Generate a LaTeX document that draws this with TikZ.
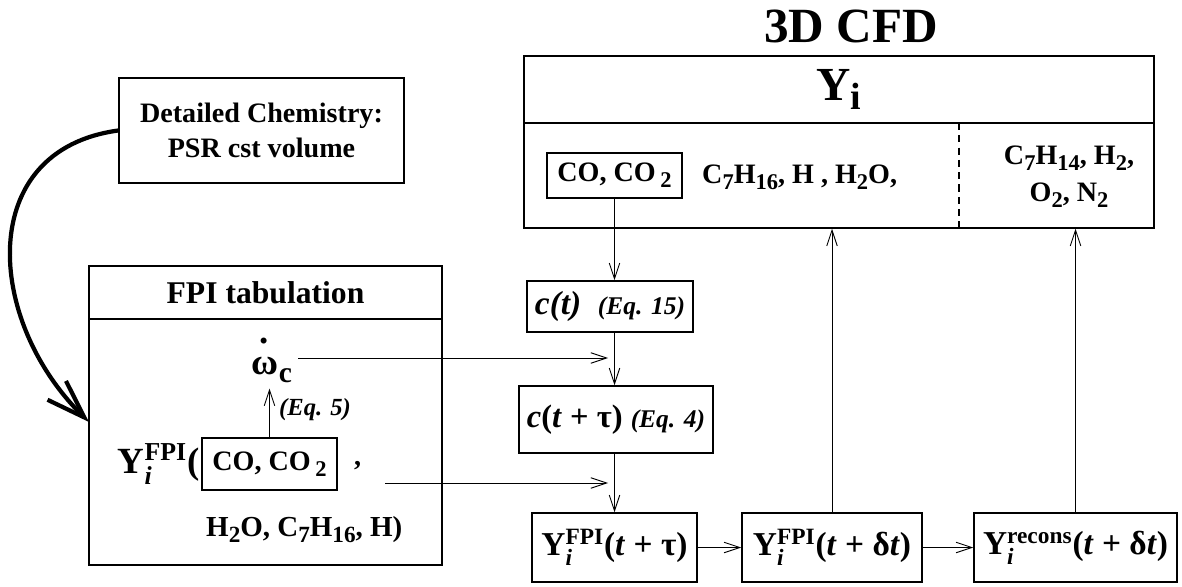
\documentclass[tikz,border=0pt]{standalone}
\usepackage{fontspec}
\usepackage{amsmath}
\setmainfont{Liberation Serif}
\usetikzlibrary{arrows.meta}

\newcommand\chem[1]{\raisebox{-0.45ex}{\scalebox{0.8}{#1}}}
\newcommand\yfpi{Y$^{\text{FPI}}_{\textit{i}}$}
\newcommand\yrec{Y$^{\text{recons}}_{\textit{i}}$}
\newcommand\omdot{\rlap{\hspace{0.2em}\raisebox{0.85em}{.}}ω}

\begin{document}
\begin{tikzpicture}[x=0.02cm, y=-0.02cm,
  >={Straight Barb[length=9pt,width=6pt]},
  box/.style={draw, line width=0.9pt, inner sep=1pt},
  small/.style={draw, line width=0.6pt, inner sep=1pt},
  txt/.style={font=\bfseries\fontsize{16}{21}\selectfont},
  big/.style={font=\bfseries\fontsize{19}{22}\selectfont},
  eq/.style={font=\bfseries\itshape\fontsize{14}{16}\selectfont},
  link/.style={->, line width=0.5pt}]
  \useasboundingbox (0,0) rectangle (1182,587);

  % 3D CFD side
  \node[font=\bfseries\fontsize{28}{30}\selectfont] (title) at (851,26) {3D CFD};
  \node[box, minimum width=12.6cm, minimum height=1.34cm,
        font=\bfseries\fontsize{27}{30}\selectfont] (cfdh) at (839,89.5) {Y\chem{i}};
  \node[box, minimum width=12.6cm, minimum height=2.1cm] (cfdb) at (839,175.5) {};
  \draw[dashed, line width=0.6pt, dash pattern=on 4pt off 3pt] (959,123) -- (959,228);
  \node[small, txt, minimum width=2.7cm, minimum height=0.9cm] (cocfd) at (614.5,175.5) {CO, CO\,\chem{2}};
  \node[txt, anchor=west] (others) at (696,177) {C\chem{7}H\chem{16}, H , H\chem{2}O,};
  \node[txt, align=center] (inert) at (1069,177) {C\chem{7}H\chem{14}, H\chem{2},\\ O\chem{2}, N\chem{2}};

  % chemistry and tabulation
  \node[box, minimum width=5.7cm, minimum height=2.1cm, align=center,
        font=\bfseries\fontsize{16}{19.5}\selectfont] (chem) at (261.5,130.5) {Detailed Chemistry:\\ PSR cst volume};
  \node[box, minimum width=7.06cm, minimum height=1.06cm,
        font=\bfseries\fontsize{18}{20}\selectfont] (fpih) at (265.5,292.5) {FPI tabulation};
  \node[box, minimum width=7.06cm, minimum height=4.92cm] (fpib) at (265.5,442) {};
  \node[font=\bfseries\fontsize{21}{24}\selectfont] (omega) at (272,360) {\omdot\chem{c}};
  \node[small, txt, minimum width=2.7cm, minimum height=1.04cm] (cofpi) at (269.5,464) {CO, CO\,\chem{2}};
  \node[font=\bfseries\fontsize{21}{22}\selectfont, anchor=east, inner sep=1pt] (yf) at (cofpi.west) {\yfpi(};
  \node[txt, anchor=west] (comma) at (348,466) {,};
  \node[font=\bfseries\fontsize{16.5}{20}\selectfont, anchor=west] (tail) at (200,530) {H\chem{2}O, C\chem{7}H\chem{16}, H)};
  \node[eq, anchor=west] (eq5) at (273,410) {(Eq. 5)};
  \draw[link] (cofpi.north) -- (cofpi.north |- omega.south);

  % time advance
  \node[box, minimum width=3.32cm, minimum height=1.02cm] (ct) at (610,306.5)
        {\bfseries\itshape\fontsize{19}{20}\selectfont c(t)\ \ {\fontsize{14.5}{16}\selectfont (Eq. 15)}};
  \node[box, minimum width=3.88cm, minimum height=1.34cm] (ctau) at (616,419.5)
        {\bfseries\fontsize{18.5}{20}\selectfont\textit{c}(\textit{t} + τ) {\itshape\fontsize{14.5}{16}\selectfont (Eq. 4)}};
  \node[box, big, minimum width=3.3cm, minimum height=1.38cm] (ytau) at (614.5,547.5) {\yfpi(\textit{t} + τ)};
  \node[box, big, minimum width=3.6cm, minimum height=1.38cm] (ydt) at (832,547.5) {\yfpi(\textit{t} + δ\textit{t})};
  \node[box, big, minimum width=4.06cm, minimum height=1.38cm] (yre) at (1075.5,547.5) {\yrec(\textit{t} + δ\textit{t})};

  \coordinate (in1) at (608,358);
  \coordinate (out2) at (385,483);
  \coordinate (in2) at (608,483);
  \coordinate (tip) at (89,422);

  \draw[link] (cocfd.south) -- (cocfd.south |- ct.north);
  \draw[link] (cocfd.south |- ct.south) -- (cocfd.south |- ctau.north);
  \draw[link] (cocfd.south |- ctau.south) -- (cocfd.south |- ytau.north);
  \draw[link] (omega.east |- in1) -- (in1);
  \draw[link] (out2) -- (in2);
  \draw[link] (ytau) -- (ydt);
  \draw[link] (ydt) -- (yre);
  \draw[link] (ydt.north) -- (ydt.north |- cfdb.south);
  \draw[link] (yre.north) -- (yre.north |- cfdb.south);

  % feeding the table
  \draw[line width=2.4pt, -{Straight Barb[length=22pt,width=15pt]}]
    (chem.west) .. controls (-25,150) and (-15,320) .. (tip);
\end{tikzpicture}
\end{document}
